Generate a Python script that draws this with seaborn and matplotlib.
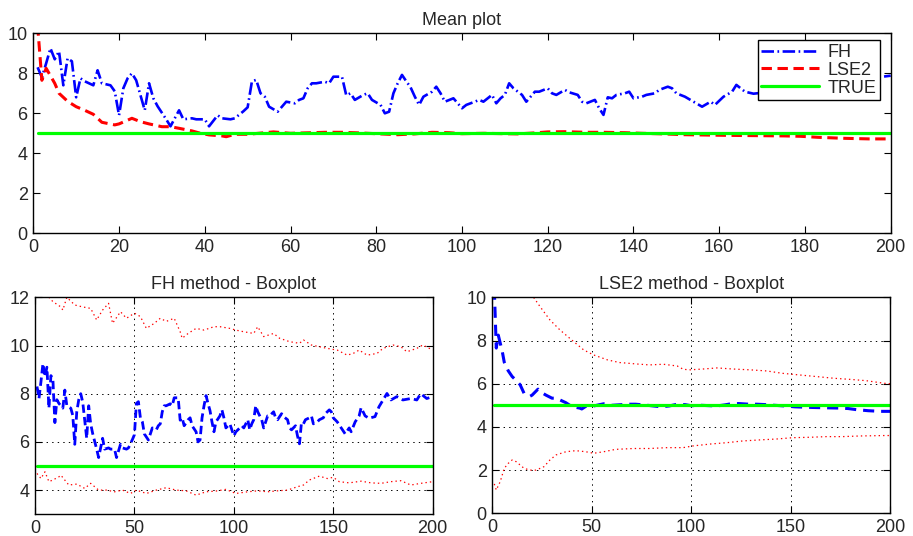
import matplotlib
matplotlib.use("Agg")
import matplotlib.pyplot as plt
import seaborn as sns
import pandas as pd

# ---- data -------------------------------------------------------------
true_value = 5.0
true_x = [1, 200]

fh_x = [1, 2, 3, 4, 5, 6, 7, 8, 9, 10, 11, 12, 14, 15, 16, 18, 19, 20, 21, 22,
        23, 24, 25, 26, 27, 28, 29, 31, 32, 34, 35, 37, 38, 40, 41, 43, 44, 46,
        47, 49, 50, 51, 52, 53, 54, 55, 57, 58, 59, 61, 62, 63, 64, 65, 66, 68,
        69, 70, 72, 73, 74, 75, 77, 78, 79, 81, 82, 83, 84, 85, 86, 87, 88, 89,
        90, 91, 93, 94, 95, 96, 98, 100, 101, 103, 104, 105, 107, 108, 109, 110,
        111, 112, 114, 115, 117, 118, 120, 121, 122, 124, 125, 127, 128, 129,
        131, 132, 133, 134, 135, 136, 138, 139, 140, 142, 143, 145, 146, 148,
        149, 150, 152, 154, 156, 158, 159, 161, 163, 164, 166, 168, 171, 173,
        177, 179, 182, 185, 189, 192, 194, 197, 200]
fh_mean = [8.3, 7.8, 8.5, 9.25, 8.7, 9.1, 7.4, 8.75, 8.6, 6.8, 7.75, 7.6, 7.4,
           8.15, 7.5, 7.4, 7.1, 5.9, 7.25, 7.75, 8.0, 7.65, 6.9, 6.15, 7.5,
           6.75, 6.35, 5.7, 5.35, 6.15, 5.7, 5.75, 5.7, 5.7, 5.35, 5.9, 5.75,
           5.7, 5.75, 6.1, 6.3, 7.6, 7.67, 7.0, 6.83, 6.33, 6.08, 6.33, 6.58,
           6.5, 6.67, 6.75, 7.25, 7.5, 7.5, 7.58, 7.5, 7.83, 7.83, 6.9, 7.0,
           6.67, 6.92, 7.0, 6.67, 6.42, 6.0, 6.08, 7.0, 7.5, 7.92, 7.6, 7.3,
           6.83, 6.42, 6.83, 7.08, 7.33, 7.0, 6.58, 6.75, 6.25, 6.42, 6.58,
           6.67, 6.58, 6.92, 6.5, 6.75, 6.92, 7.5, 7.25, 6.92, 6.58, 7.08,
           7.08, 7.25, 7.0, 6.92, 7.17, 7.05, 6.92, 6.58, 6.5, 6.67, 6.25,
           5.92, 6.8, 6.75, 6.92, 7.0, 7.08, 6.75, 6.83, 6.92, 7.0, 7.17,
           7.33, 7.25, 7.0, 6.83, 6.58, 6.33, 6.58, 6.42, 6.83, 7.08, 7.42,
           7.08, 6.98, 7.05, 7.46, 8.01, 7.74, 7.88, 7.74, 7.8, 7.74, 8.0,
           7.8, 7.88]

lse_x = [1, 2, 3, 5, 6, 8, 10, 12, 14, 16, 19, 20, 23, 25, 27, 30, 32, 34, 37,
         39, 41, 44, 45, 47, 50, 54, 56, 60, 65, 68, 72, 76, 81, 85, 89, 93,
         97, 100, 105, 110, 113, 117, 120, 124, 129, 133, 138, 142, 147, 152,
         161, 170, 175, 179, 183, 189, 195, 200]
lse_mean = [10.4, 7.65, 8.25, 7.5, 7.0, 6.6, 6.33, 6.15, 5.95, 5.55, 5.42,
            5.47, 5.75, 5.58, 5.47, 5.33, 5.33, 5.25, 5.12, 5.0, 4.92, 4.87,
            4.83, 4.95, 4.95, 5.03, 5.07, 5.0, 5.03, 5.05, 5.05, 5.02, 4.97,
            4.93, 4.97, 5.05, 5.03, 4.98, 5.0, 4.98, 4.97, 5.02, 5.07, 5.08,
            5.05, 5.05, 5.03, 5.0, 4.97, 4.93, 4.9, 4.88, 4.87, 4.85, 4.8,
            4.75, 4.72, 4.72]

# FH quantile band
fh_up_x = [1, 4, 7, 9, 13, 14, 16, 20, 24, 28, 31, 34, 37, 39, 43, 46, 50,
           53, 56, 60, 63, 66, 70, 73, 74, 77, 81, 85, 90, 93, 98, 101, 105,
           110, 112, 115, 120, 123, 128, 133, 135, 139, 143, 147, 152, 157,
           160, 163, 167, 172, 175, 180, 184, 187, 192, 195, 200]
fh_upper = [13.0, 12.5, 12.0, 11.82, 11.6, 11.47, 12.0, 11.68, 11.6, 11.54,
            11.06, 11.47, 11.75, 10.92, 11.4, 11.13, 11.34, 11.2, 10.71,
            10.92, 11.13, 11.0, 11.13, 10.57, 10.3, 10.5, 10.71, 10.64,
            10.78, 10.78, 10.71, 10.64, 10.57, 10.5, 10.78, 10.37, 10.5,
            10.3, 10.16, 10.09, 10.23, 10.02, 9.95, 9.88, 9.81, 9.6, 9.67,
            9.81, 9.6, 9.67, 9.88, 10.02, 9.95, 9.74, 9.88, 10.02, 9.81]
fh_lo_x = [1, 3, 5, 7, 9, 12, 13, 17, 21, 25, 28, 32, 36, 40, 44, 48, 51, 56,
           61, 66, 71, 76, 81, 86, 91, 96, 101, 107, 112, 117, 122, 127, 132,
           135, 138, 143, 147, 150, 153, 158, 164, 169, 174, 179, 184, 189,
           194, 200]
fh_lower = [4.69, 4.48, 4.76, 4.35, 4.42, 4.55, 4.62, 4.21, 4.25, 4.07, 4.28,
            4.0, 4.0, 3.93, 4.0, 3.86, 4.0, 3.86, 4.0, 4.1, 4.0, 3.97, 3.79,
            3.93, 3.96, 4.03, 3.86, 3.93, 3.97, 3.93, 3.97, 4.0, 4.14, 4.21,
            4.42, 4.58, 4.48, 4.53, 4.35, 4.3, 4.37, 4.3, 4.28, 4.35, 4.39,
            4.21, 4.28, 4.35]

# LSE2 quantile band
lse_up_x = [1, 5, 10, 15, 20, 24, 29, 34, 40, 46, 51, 58, 64, 73, 79, 86, 93,
            96, 99, 106, 113, 121, 130, 138, 146, 155, 163, 172, 180, 188, 197,
            200]
lse_upper = [30.0, 18.0, 13.5, 11.5, 10.1, 9.57, 8.95, 8.49, 8.02, 7.56,
             7.33, 7.1, 6.98, 6.91, 6.87, 6.9, 6.82, 6.67, 6.64, 6.68, 6.73,
             6.68, 6.64, 6.59, 6.48, 6.4, 6.33, 6.25, 6.2, 6.14, 6.02, 6.0]
lse_lo_x = [1, 2, 4, 6, 8, 10, 12, 16, 19, 22, 26, 29, 32, 37, 42, 47, 51, 56,
            62, 71, 79, 88, 96, 101, 110, 118, 126, 135, 143, 151, 160, 168,
            176, 185, 197, 200]
lse_lower = [1.36, 1.08, 1.47, 2.08, 2.31, 2.47, 2.39, 2.08, 2.0, 2.0, 2.16,
             2.47, 2.7, 2.85, 2.9, 2.85, 2.78, 2.85, 2.96, 3.0, 3.0, 3.04,
             3.04, 3.12, 3.21, 3.27, 3.35, 3.4, 3.44, 3.5, 3.52, 3.55, 3.55,
             3.58, 3.6, 3.6]

# ---- styling ------------------------------------------------------------
sns.set_theme(style="ticks")
plt.rcParams["font.family"] = ["Liberation Sans", "DejaVu Sans"]
plt.rcParams["font.size"] = 13
plt.rcParams["lines.scale_dashes"] = False

BLUE = "#0000ff"
RED = "#ff0000"
GREEN = "#00ff00"
DASHDOT = (0, (9, 2.5, 1.2, 2.5))
DASH_RED = (0, (7.5, 4))
DASH_FH = (0, (6, 3))
DASH_LSE = (0, (8, 5))
DOTS = (0, (1, 2.2))

fig = plt.figure(figsize=(9.13, 5.36), dpi=100)
W, H = 913.0, 536.0


def axes_px(left, top, right, bottom):
    return fig.add_axes([left / W, 1 - bottom / H, (right - left) / W,
                         (bottom - top) / H])


def style_axes(ax):
    ax.tick_params(direction="in", top=True, right=True, length=5,
                   width=0.8, labelsize=13, color="black", pad=4)
    for s in ax.spines.values():
        s.set_linewidth(1.0)
        s.set_color("black")
    ax.set_xlabel("")
    ax.set_ylabel("")


def draw(ax, x, y, **kw):
    sns.lineplot(x=x, y=y, ax=ax, estimator=None, sort=False, **kw)


# ---- Mean plot ------------------------------------------------------------
ax0 = axes_px(33.3, 33.3, 890.7, 233.3)
draw(ax0, fh_x, fh_mean, color=BLUE, linestyle=DASHDOT, linewidth=1.9,
     label="FH")
draw(ax0, lse_x, lse_mean, color=RED, linestyle=DASH_RED, linewidth=2.2,
     label="LSE2")
draw(ax0, true_x, [true_value, true_value], color=GREEN, linestyle="-",
     linewidth=2.3, label="TRUE")
ax0.set_xlim(0, 200)
ax0.set_ylim(0, 10)
ax0.set_xticks(range(0, 201, 20))
ax0.set_yticks(range(0, 11, 2))
ax0.set_title("Mean plot", fontsize=13, pad=6)
style_axes(ax0)
leg = ax0.legend(loc="upper right", bbox_to_anchor=(0.988, 0.965),
                 frameon=True, fancybox=False, framealpha=1,
                 edgecolor="black", fontsize=13, handlelength=3.2,
                 handletextpad=0.5, borderpad=0.2, labelspacing=0.05,
                 borderaxespad=0)
leg.get_frame().set_linewidth(1.0)

# ---- FH method boxplot ------------------------------------------------------
ax1 = axes_px(35, 297.3, 432.7, 514.2)
draw(ax1, fh_up_x, fh_upper, color=RED, linestyle=DOTS, linewidth=0.9)
draw(ax1, fh_lo_x, fh_lower, color=RED, linestyle=DOTS, linewidth=0.9)
draw(ax1, fh_x, fh_mean, color=BLUE, linestyle=DASH_FH, linewidth=2.0)
draw(ax1, true_x, [true_value, true_value], color=GREEN, linestyle="-",
     linewidth=2.3)
ax1.set_xlim(0, 200)
ax1.set_ylim(3, 12)
ax1.set_xticks(range(0, 201, 50))
ax1.set_yticks(range(4, 13, 2))
ax1.set_title("FH method - Boxplot", fontsize=13, pad=6)
ax1.grid(True, linestyle=(0, (1, 3)), color="black", linewidth=0.7)
ax1.set_axisbelow(True)
style_axes(ax1)

# ---- LSE2 method boxplot ----------------------------------------------------
ax2 = axes_px(492.3, 297.3, 890, 513.3)
draw(ax2, lse_up_x, lse_upper, color=RED, linestyle=DOTS, linewidth=0.9)
draw(ax2, lse_lo_x, lse_lower, color=RED, linestyle=DOTS, linewidth=0.9)
draw(ax2, lse_x, lse_mean, color=BLUE, linestyle=DASH_LSE, linewidth=2.2)
draw(ax2, true_x, [true_value, true_value], color=GREEN, linestyle="-",
     linewidth=2.3)
ax2.set_xlim(0, 200)
ax2.set_ylim(0, 10)
ax2.set_xticks(range(0, 201, 50))
ax2.set_yticks(range(0, 11, 2))
ax2.set_title("LSE2 method - Boxplot", fontsize=13, pad=6)
ax2.grid(True, linestyle=(0, (1, 3)), color="black", linewidth=0.7)
ax2.set_axisbelow(True)
style_axes(ax2)

for ax in (ax1, ax2):
    if ax.get_legend() is not None:
        ax.get_legend().remove()

fig.savefig("out.png", dpi=100, facecolor="white")
